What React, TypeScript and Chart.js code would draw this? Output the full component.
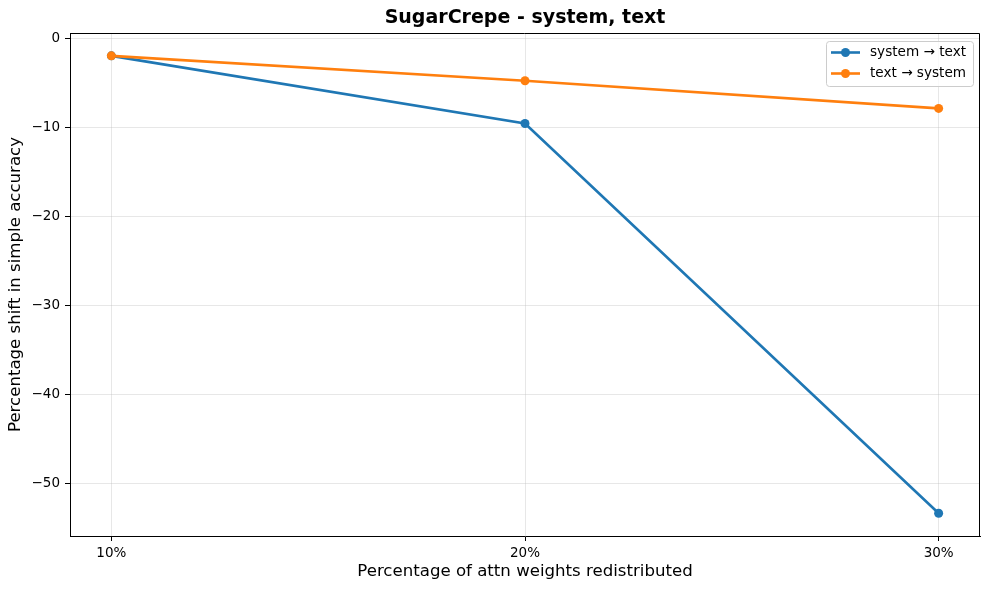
import React, { useEffect, useRef } from "react";
import { Chart, registerables } from "chart.js";

Chart.register(...registerables);

const xLabels = ["10%", "20%", "30%"];
const xPositions = [1, 2, 3];
const systemToText = [-1.9, -9.5, -53.3];
const textToSystem = [-1.9, -4.7, -7.8];
const yTicks = [0, -10, -20, -30, -40, -50];
const seriesNames = ["system \u2192 text", "text \u2192 system"];
const seriesColors = ["#1f77b4", "#ff7f0e"];
const titleText = "SugarCrepe - system, text";
const xTitle = "Percentage of attn weights redistributed";
const yTitle = "Percentage shift in simple accuracy";

const FONT = "'DejaVu Sans', sans-serif";

const decorPlugin = {
  id: "decor",
  afterDraw(chart: any) {
    const { ctx, chartArea } = chart;
    const { left, right, top, bottom } = chartArea;
    const cx = (left + right) / 2;
    const cy = (top + bottom) / 2;
    ctx.save();
    // top and right frame
    ctx.strokeStyle = "#000";
    ctx.lineWidth = 1;
    ctx.beginPath();
    ctx.moveTo(left, top + 0.5);
    ctx.lineTo(right - 0.5, top + 0.5);
    ctx.lineTo(right - 0.5, bottom);
    ctx.stroke();
    // title
    ctx.fillStyle = "#000";
    ctx.textAlign = "center";
    ctx.textBaseline = "middle";
    ctx.font = `bold 19px ${FONT}`;
    ctx.fillText(titleText, cx, 18);
    // x title
    ctx.font = `16.6px ${FONT}`;
    ctx.fillText(xTitle, cx, 572);
    // y title
    ctx.save();
    ctx.translate(16, cy);
    ctx.rotate(-Math.PI / 2);
    ctx.fillText(yTitle, 0, 0);
    ctx.restore();
    // legend
    const lx = 826, ly = 41, lw = 147, lh = 45;
    ctx.fillStyle = "rgba(255,255,255,0.8)";
    ctx.strokeStyle = "#cccccc";
    ctx.lineWidth = 1;
    ctx.beginPath();
    (ctx as any).roundRect(lx + 0.5, ly + 0.5, lw, lh, 3);
    ctx.fill();
    ctx.stroke();
    ctx.font = `13.6px ${FONT}`;
    ctx.textAlign = "left";
    const rows = [52.5, 73.5];
    seriesNames.forEach((name, i) => {
      const y = rows[i];
      ctx.strokeStyle = seriesColors[i];
      ctx.lineWidth = 2.6;
      ctx.beginPath();
      ctx.moveTo(831, y);
      ctx.lineTo(860, y);
      ctx.stroke();
      ctx.fillStyle = seriesColors[i];
      ctx.beginPath();
      ctx.arc(845.5, y, 4.5, 0, Math.PI * 2);
      ctx.fill();
      ctx.fillStyle = "#000";
      ctx.fillText(name, 870, y);
    });
    ctx.restore();
  },
};

export default function App() {
  const ref = useRef<HTMLCanvasElement>(null);
  useEffect(() => {
    if (!ref.current) return;
    const mk = (vals: number[]) => xPositions.map((x, i) => ({ x, y: vals[i] }));
    const chart = new Chart(ref.current, {
      type: "line",
      data: {
        datasets: [
          {
            label: seriesNames[0],
            data: mk(systemToText),
            borderColor: seriesColors[0],
            backgroundColor: seriesColors[0],
            borderWidth: 2.6,
            pointRadius: 4.5,
            pointBorderWidth: 0,
            tension: 0,
            order: 1,
          },
          {
            label: seriesNames[1],
            data: mk(textToSystem),
            borderColor: seriesColors[1],
            backgroundColor: seriesColors[1],
            borderWidth: 2.6,
            pointRadius: 4.5,
            pointBorderWidth: 0,
            tension: 0,
            order: 0,
          },
        ],
      },
      options: {
        animation: false,
        responsive: false,
        devicePixelRatio: 1,
        clip: false as any,
        layout: { padding: { top: 33, right: 9, left: 0, bottom: 0 } },
        plugins: {
          legend: { display: false },
          title: { display: false },
          tooltip: { enabled: false },
        },
        scales: {
          x: {
            type: "linear",
            min: 0.9,
            max: 3.1,
            afterBuildTicks: (s: any) => {
              s.ticks = xPositions.map((v) => ({ value: v }));
            },
            afterFit: (s: any) => {
              s.height = 54;
            },
            grid: {
              color: "rgba(176,176,176,0.3)",
              lineWidth: 1,
              tickColor: "#000",
              tickLength: 5,
              drawTicks: true,
            },
            border: { display: true, color: "#000", width: 1 },
            ticks: {
              autoSkip: false,
              maxRotation: 0,
              padding: 4,
              color: "#000",
              font: { family: FONT, size: 13.5 },
              callback: (v: any) => xLabels[xPositions.indexOf(Number(v))] ?? "",
            },
          },
          y: {
            type: "linear",
            min: -55.85,
            max: 0.67,
            afterBuildTicks: (s: any) => {
              s.ticks = yTicks.map((v) => ({ value: v }));
            },
            afterFit: (s: any) => {
              s.width = 70;
            },
            grid: {
              color: "rgba(176,176,176,0.3)",
              lineWidth: 1,
              tickColor: "#000",
              tickLength: 5,
              drawTicks: true,
            },
            border: { display: true, color: "#000", width: 1 },
            ticks: {
              padding: 5,
              color: "#000",
              font: { family: FONT, size: 13.5 },
              callback: (v: any) => {
                const n = Number(v);
                return n < 0 ? "\u2212" + Math.abs(n) : String(n);
              },
            },
          },
        },
      },
      plugins: [decorPlugin],
    });
    return () => chart.destroy();
  }, []);
  return (
    <div style={{ position: "absolute", left: 0, top: 0, width: 989, height: 590, background: "#fff" }}>
      <canvas ref={ref} width={989} height={590} style={{ display: "block", width: 989, height: 590 }} />
    </div>
  );
}
